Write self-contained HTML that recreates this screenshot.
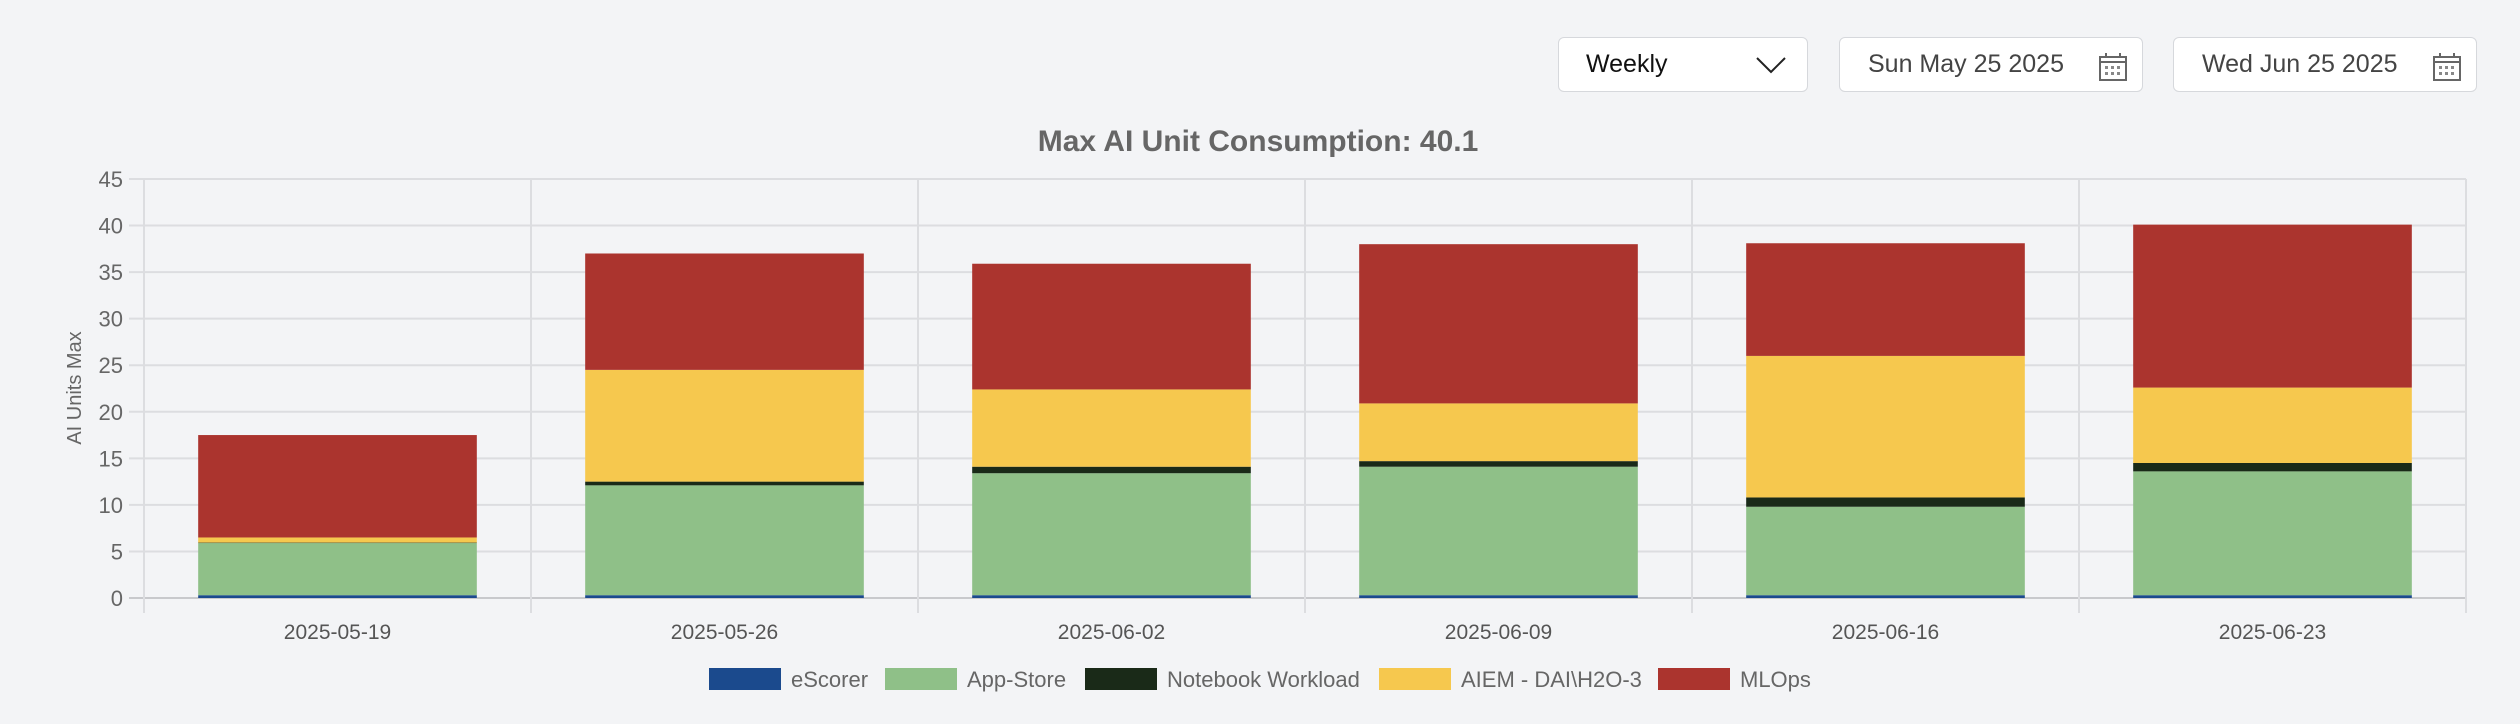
<!DOCTYPE html>
<html><head><meta charset="utf-8"><style>
body{margin:0;width:2520px;height:724px;background:#f3f4f6;font-family:"Liberation Sans",sans-serif;overflow:hidden;position:relative}
.ctl{position:absolute;top:37px;height:55px;background:#fff;border:1px solid #d6d8dc;border-radius:6px;box-sizing:border-box;font-size:25px;color:#333;line-height:53px}
</style></head><body>
<div class="ctl" style="left:1558px;width:250px;color:#111">
<span style="position:absolute;left:27px">Weekly</span>
<svg style="position:absolute;left:1195px" width="0" height="0"></svg>
<svg style="position:absolute;left:196px;top:18px" width="32" height="18"><polyline points="2,2 16,16 30,2" fill="none" stroke="#222" stroke-width="2"/></svg>
</div>
<div class="ctl" style="left:1839px;width:304px">
<span style="position:absolute;left:28px;color:#444">Sun May 25 2025</span>
<svg style="position:absolute;left:258px;top:14px" width="30" height="30"><rect x="2" y="5" width="26" height="23" fill="none" stroke="#666" stroke-width="2"/><line x1="2" y1="10" x2="28" y2="10" stroke="#666" stroke-width="2"/><line x1="8" y1="1" x2="8" y2="6" stroke="#666" stroke-width="2"/><line x1="22" y1="1" x2="22" y2="6" stroke="#666" stroke-width="2"/><g fill="#888"><rect x="7" y="14" width="3" height="3"/><rect x="13" y="14" width="3" height="3"/><rect x="19" y="14" width="3" height="3"/><rect x="7" y="20" width="3" height="3"/><rect x="13" y="20" width="3" height="3"/><rect x="19" y="20" width="3" height="3"/></g></svg>
</div>
<div class="ctl" style="left:2173px;width:304px">
<span style="position:absolute;left:28px;color:#444">Wed Jun 25 2025</span>
<svg style="position:absolute;left:258px;top:14px" width="30" height="30"><rect x="2" y="5" width="26" height="23" fill="none" stroke="#666" stroke-width="2"/><line x1="2" y1="10" x2="28" y2="10" stroke="#666" stroke-width="2"/><line x1="8" y1="1" x2="8" y2="6" stroke="#666" stroke-width="2"/><line x1="22" y1="1" x2="22" y2="6" stroke="#666" stroke-width="2"/><g fill="#888"><rect x="7" y="14" width="3" height="3"/><rect x="13" y="14" width="3" height="3"/><rect x="19" y="14" width="3" height="3"/><rect x="7" y="20" width="3" height="3"/><rect x="13" y="20" width="3" height="3"/><rect x="19" y="20" width="3" height="3"/></g></svg>
</div>
<svg id="chart" width="2520" height="724" style="position:absolute;left:0;top:0"></svg>
<script>
const categories=["2025-05-19","2025-05-26","2025-06-02","2025-06-09","2025-06-16","2025-06-23"];
const seriesNames=["eScorer","App-Store","Notebook Workload","AIEM - DAI\\H2O-3","MLOps"];
const eScorer=[0.3,0.3,0.3,0.3,0.3,0.3];
const appStore=[5.6,11.8,13.1,13.8,9.5,13.3];
const notebook=[0.05,0.4,0.7,0.6,1.0,0.9];
const aiem=[0.55,12.0,8.3,6.2,15.2,8.1];
const mlops=[11.0,12.5,13.5,17.1,12.1,17.5];
const yTicks=[0,5,10,15,20,25,30,35,40,45];
const colors=["#1b4a8d","#8fc088","#1a2a18","#f6c84e","#ab342e"];
const series=[eScorer,appStore,notebook,aiem,mlops];
const NS="http://www.w3.org/2000/svg",svg=document.getElementById('chart');
const L=144,R=2466,T=179,B=598,yMax=45;
const y=v=>B-(v/yMax)*(B-T);
const bw=(R-L)/categories.length;
const x=i=>L+bw*i;
function el(t,a,p){const e=document.createElementNS(NS,t);for(const k in a)e.setAttribute(k,a[k]);(p||svg).appendChild(e);return e;}
yTicks.forEach(v=>{
 const g=el('line',{x1:L-15,x2:R,y1:y(v),y2:y(v),stroke:v===0?'#c8c9cc':'#dcdde0','stroke-width':2});
 
 const t=el('text',{x:123,y:y(v)+8,'text-anchor':'end','font-size':22,fill:'#666'});t.textContent=v;
 
});
for(let i=0;i<=categories.length;i++){
 const g=el('line',{x1:x(i),x2:x(i),y1:T,y2:613,stroke:'#dcdde0','stroke-width':2});
 
}
categories.forEach((c,i)=>{
 let acc=0;
 series.forEach((s,k)=>{
  const v=s[i];const r=el('rect',{x:x(i)+bw*0.14,width:bw*0.72,y:y(acc+v),height:y(acc)-y(acc+v),fill:colors[k]});
  
  acc+=v;
 });
 const t=el('text',{x:x(i)+bw/2,y:639,'text-anchor':'middle','font-size':21,fill:'#555'});t.textContent=c;
 
});
const ttl=el('text',{x:1258,y:151,'text-anchor':'middle','font-size':30,'font-weight':'bold',fill:'#666'});
ttl.textContent="Max AI Unit Consumption: 40.1";

const yt=el('text',{transform:'translate(81,388) rotate(-90)','text-anchor':'middle','font-size':20,fill:'#666'});
yt.textContent="AI Units Max";

const lx=[709,885,1085,1379,1658];
seriesNames.forEach((n,k)=>{
 const r=el('rect',{x:lx[k],y:668,width:72,height:22,fill:colors[k]});
 
 const t=el('text',{x:lx[k]+82,y:687,'font-size':22,fill:'#666'});t.textContent=n;
 
});
</script>
</body></html>
